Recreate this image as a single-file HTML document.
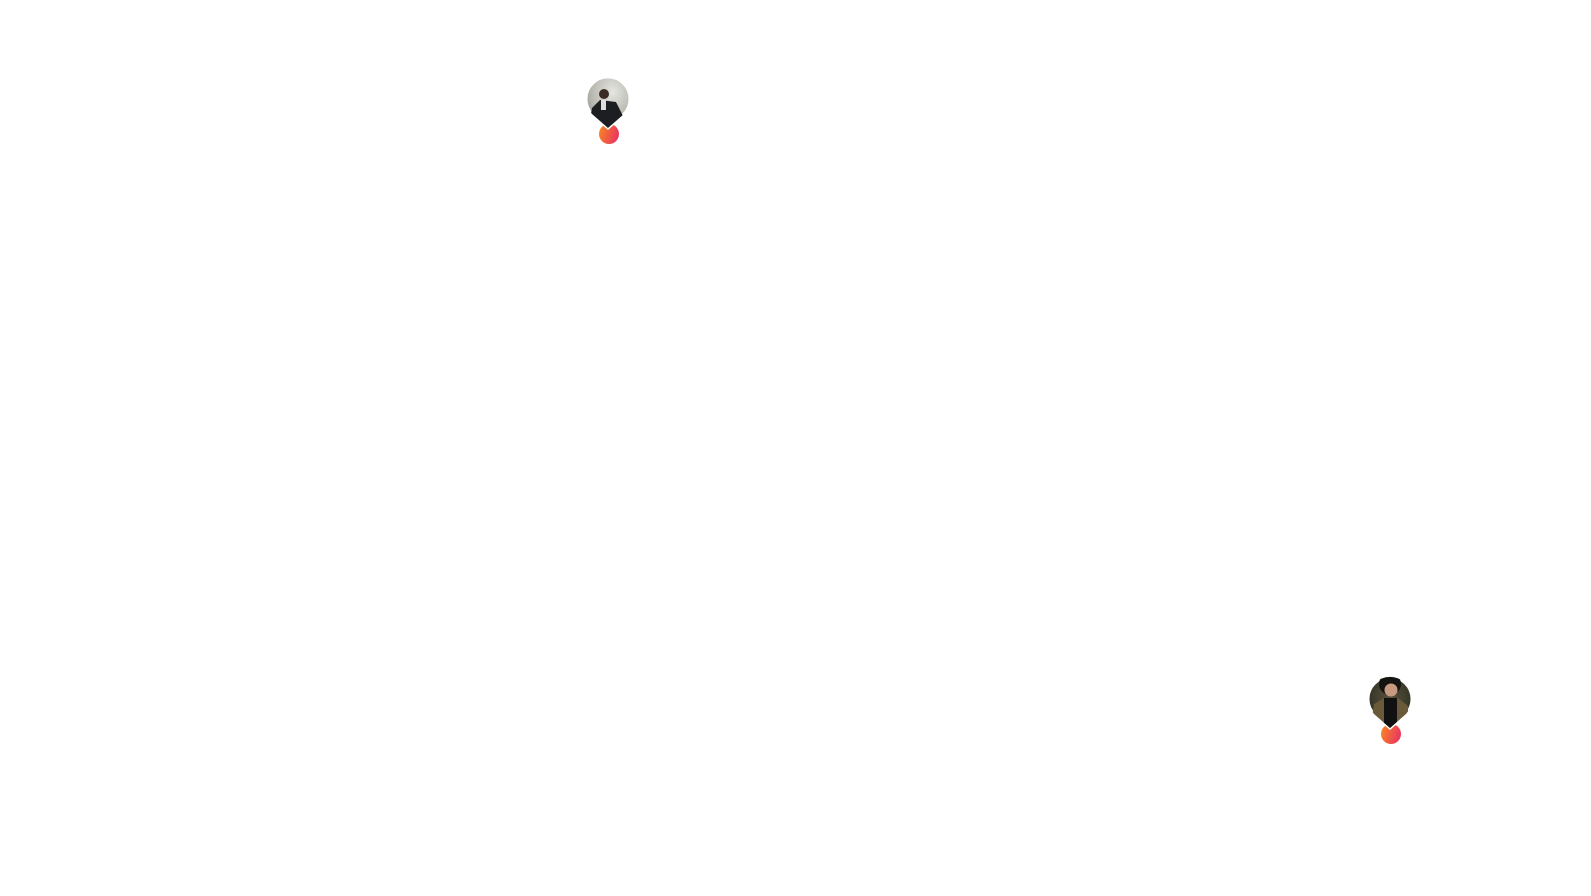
<!DOCTYPE html>
<html><head><style>html,body{margin:0;padding:0;background:#fff;width:1591px;height:896px;overflow:hidden}</style></head>
<body>
<svg width="1591" height="896" xmlns="http://www.w3.org/2000/svg">
<defs>
<linearGradient id="g" x1="0" y1="0" x2="1" y2="0.3"><stop offset="0" stop-color="#f98a1f"/><stop offset="1" stop-color="#ea3a5e"/></linearGradient>
<radialGradient id="p1" cx="0.6" cy="0.3" r="0.8"><stop offset="0" stop-color="#e6e6e2"/><stop offset="0.6" stop-color="#b8b8b0"/><stop offset="1" stop-color="#888"/></radialGradient>
<radialGradient id="p2" cx="0.5" cy="0.4" r="0.7"><stop offset="0" stop-color="#5a5040"/><stop offset="0.6" stop-color="#3a3a2a"/><stop offset="1" stop-color="#1b1b14"/></radialGradient>
<clipPath id="c1"><path d="M608,128 L592,114 A22,22 0 1 1 624,114 Z"/></clipPath>
<clipPath id="c2"><path d="M1390,728 L1374,714 A22,22 0 1 1 1406,714 Z"/></clipPath>
</defs>
<g>
<circle cx="609" cy="134" r="10" fill="url(#g)"/>
<path d="M608,128 L592,114 A22,22 0 1 1 624,114 Z" fill="url(#p1)" stroke="#fff" stroke-width="3"/>
<g clip-path="url(#c1)">
<path d="M588,130 L592,108 L600,100 L616,102 L624,118 L624,130 Z" fill="#1c1e22"/>
<circle cx="604" cy="94" r="5" fill="#3a2c24"/>
<rect x="601" y="100" width="5" height="10" fill="#ddd"/>
</g>
</g>
<g>
<circle cx="1391" cy="734" r="10" fill="url(#g)"/>
<path d="M1390,728 L1374,714 A22,22 0 1 1 1406,714 Z" fill="url(#p2)" stroke="#fff" stroke-width="3"/>
<g clip-path="url(#c2)">
<circle cx="1390" cy="684" r="11" fill="#161410"/>
<circle cx="1391" cy="690" r="6.5" fill="#c99a82"/>
<path d="M1370,730 L1374,704 L1384,698 L1398,698 L1408,706 L1408,730 Z" fill="#6b5a3a"/>
<rect x="1384" y="698" width="13" height="30" fill="#111"/>
</g>
</g>
</svg>
</body></html>
